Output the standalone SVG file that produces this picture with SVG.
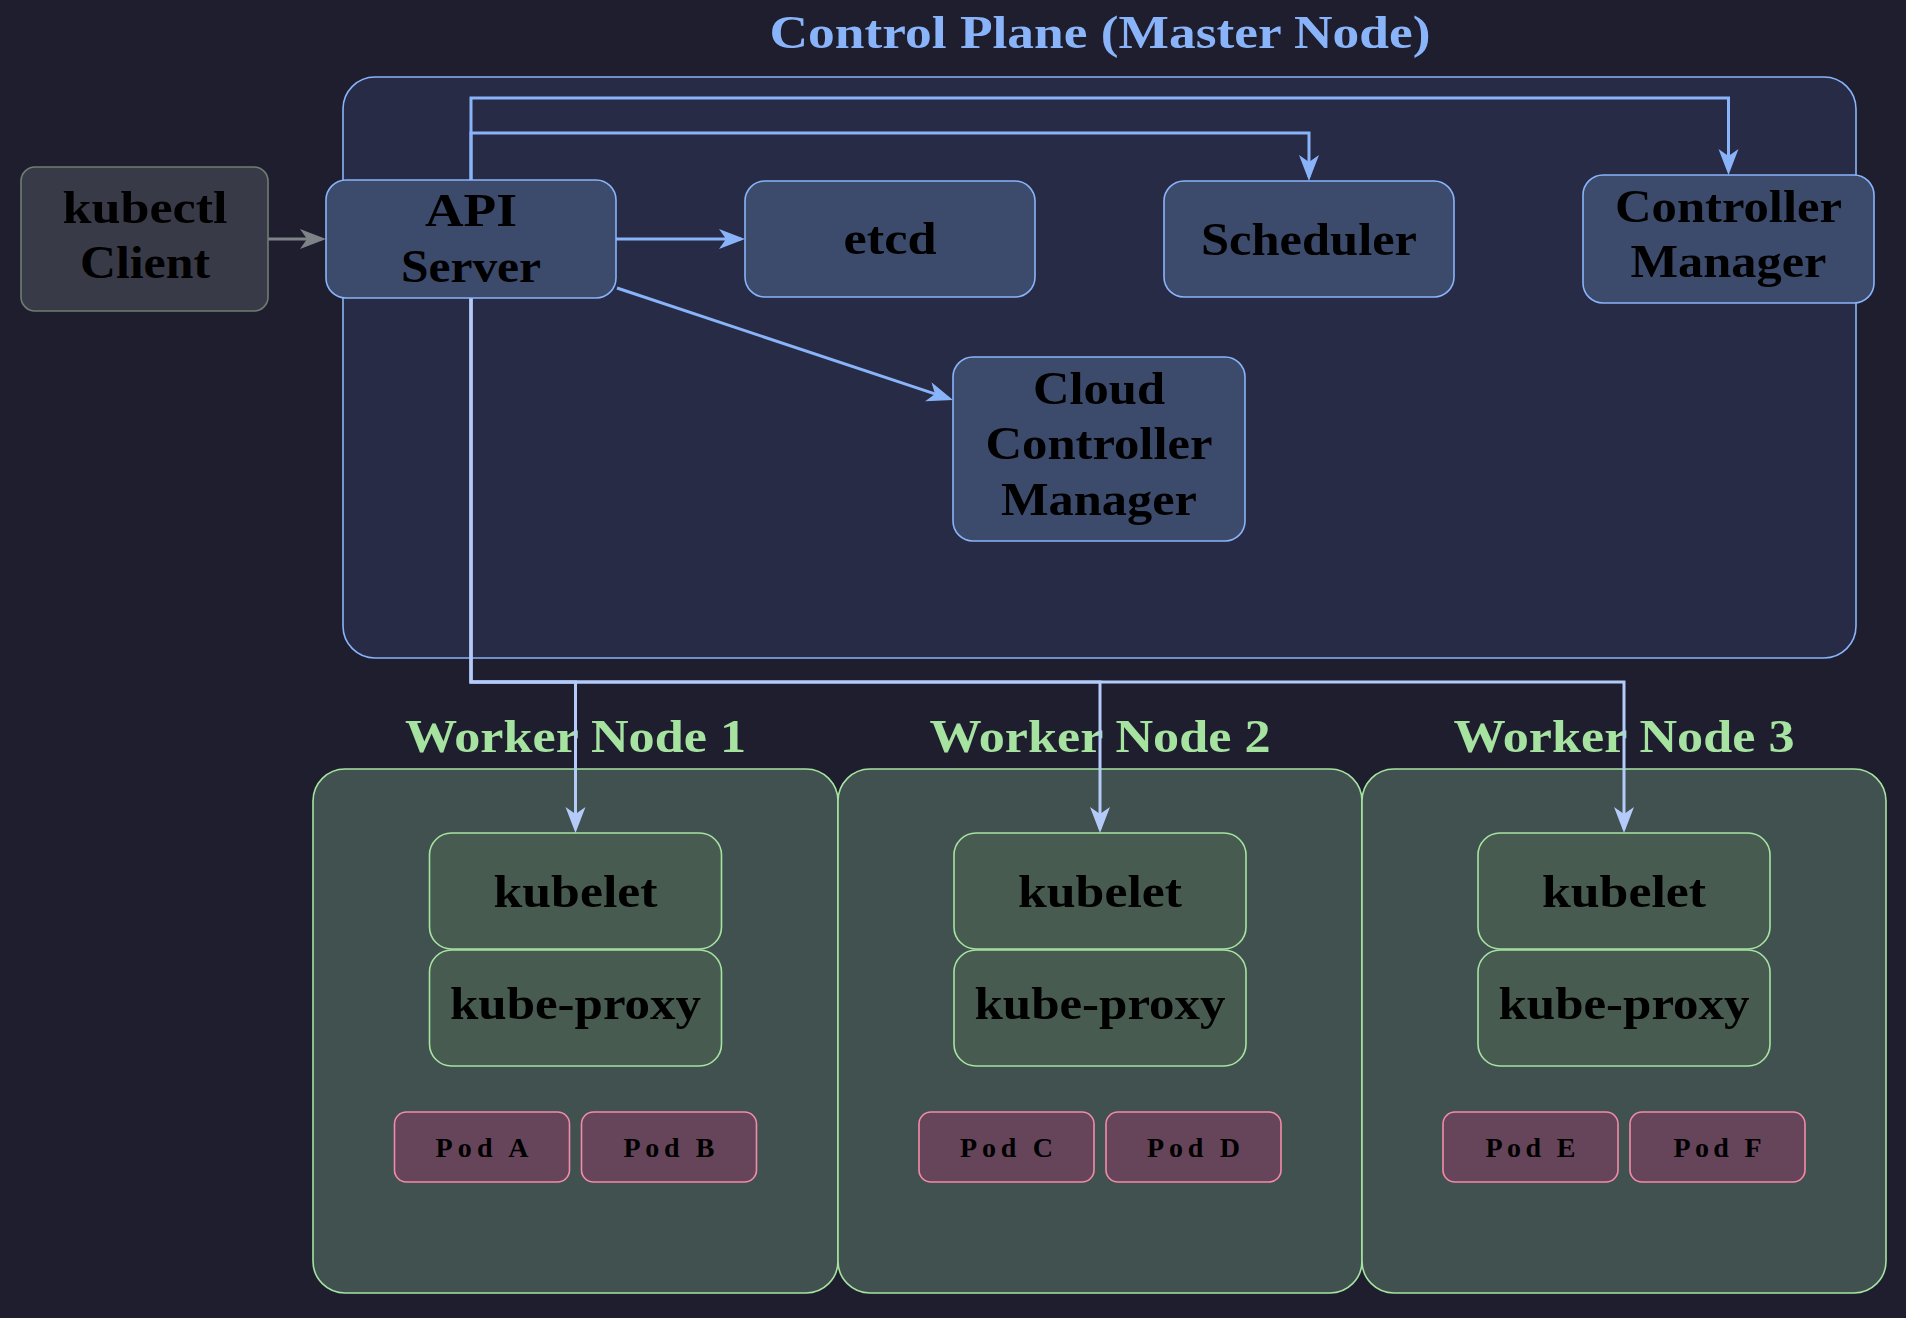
<svg xmlns="http://www.w3.org/2000/svg" width="1906" height="1318" viewBox="0 0 1906 1318">
<defs>
<style>
text{font-family:"Liberation Serif","DejaVu Serif",serif;font-weight:bold;text-anchor:middle;}
.lbl{font-size:46px;fill:#000;}
.pod-t{font-size:28px;fill:#000;}
.cp-title{font-size:46px;fill:#89b4fa;}
.w-title{font-size:46px;fill:#a6e3a1;}
.cp{fill:#272b45;stroke:#89b4fa;stroke-width:1.6;}
.comp{fill:#3c4a6c;stroke:#89b4fa;stroke-width:1.6;}
.client{fill:#393a47;stroke:#6f7d72;stroke-width:1.6;}
.worker{fill:#405150;stroke:#a6e3a1;stroke-width:1.6;}
.wcomp{fill:#475b51;stroke:#a6e3a1;stroke-width:1.6;}
.pod{fill:#66455b;stroke:#f38ba8;stroke-width:1.6;}
.c-blue{fill:none;stroke:#89b4fa;stroke-width:3;marker-end:url(#ah-blue);}
.c-light{fill:none;stroke:#b4cbfa;stroke-width:3;marker-end:url(#ah-light);}
.c-gray{fill:none;stroke:#7d8387;stroke-width:3;marker-end:url(#ah-gray);}
</style>
<marker id="ah-blue" markerUnits="userSpaceOnUse" markerWidth="30" markerHeight="24" refX="22" refY="10" orient="auto"><path d="M0,0 L26,10 L0,20 L7,10 Z" fill="#89b4fa"/></marker>
<marker id="ah-light" markerUnits="userSpaceOnUse" markerWidth="30" markerHeight="24" refX="22" refY="10" orient="auto"><path d="M0,0 L26,10 L0,20 L7,10 Z" fill="#b4cbfa"/></marker>
<marker id="ah-gray" markerUnits="userSpaceOnUse" markerWidth="30" markerHeight="24" refX="22" refY="10" orient="auto"><path d="M0,0 L26,10 L0,20 L7,10 Z" fill="#7d8387"/></marker>
</defs>
<rect x="0" y="0" width="1906" height="1318" fill="#1e1e2e"/>

<g id="control-plane">
<rect class="cp" x="343" y="77" width="1513" height="581" rx="32"/>
<text class="cp-title" x="1100" y="48" textLength="661" lengthAdjust="spacingAndGlyphs">Control Plane (Master Node)</text>
</g>

<g id="worker-1">
<rect class="worker" x="313" y="769" width="525" height="524" rx="32"/>
<text class="w-title" x="575.5" y="752" textLength="341" lengthAdjust="spacingAndGlyphs">Worker Node 1</text>
</g>
<g id="worker-2">
<rect class="worker" x="838" y="769" width="524" height="524" rx="32"/>
<text class="w-title" x="1100" y="752" textLength="341" lengthAdjust="spacingAndGlyphs">Worker Node 2</text>
</g>
<g id="worker-3">
<rect class="worker" x="1362" y="769" width="524" height="524" rx="32"/>
<text class="w-title" x="1624" y="752" textLength="341" lengthAdjust="spacingAndGlyphs">Worker Node 3</text>
</g>

<g id="connectors">
<path class="c-gray" d="M268,239 H322"/>
<path class="c-blue" d="M616,239 H741"/>
<path class="c-blue" d="M471,180 V133 H1309 V177"/>
<path class="c-blue" d="M471,180 V98 H1728.5 V171"/>
<path class="c-blue" d="M617,288 L949.2,398.7"/>
<path class="c-light" d="M471,298 V682 H575.5 V829"/>
<path class="c-light" d="M471,298 V682 H1100 V829"/>
<path class="c-light" d="M471,298 V682 H1624 V829"/>
</g>

<g id="kubectl">
<rect class="client" x="21" y="167" width="247" height="144" rx="14"/>
<text class="lbl" x="145" y="223" textLength="165" lengthAdjust="spacingAndGlyphs">kubectl</text>
<text class="lbl" x="145" y="278" textLength="130" lengthAdjust="spacingAndGlyphs">Client</text>
</g>

<g id="api-server">
<rect class="comp" x="326" y="180" width="290" height="118" rx="20"/>
<text class="lbl" x="471" y="226" textLength="92" lengthAdjust="spacingAndGlyphs">API</text>
<text class="lbl" x="471" y="282" textLength="140" lengthAdjust="spacingAndGlyphs">Server</text>
</g>

<g id="etcd">
<rect class="comp" x="745" y="181" width="290" height="116" rx="20"/>
<text class="lbl" x="890" y="254" textLength="93" lengthAdjust="spacingAndGlyphs">etcd</text>
</g>

<g id="scheduler">
<rect class="comp" x="1164" y="181" width="290" height="116" rx="20"/>
<text class="lbl" x="1309" y="255" textLength="216" lengthAdjust="spacingAndGlyphs">Scheduler</text>
</g>

<g id="controller-manager">
<rect class="comp" x="1583" y="175" width="291" height="128" rx="20"/>
<text class="lbl" x="1728.5" y="222" textLength="227" lengthAdjust="spacingAndGlyphs">Controller</text>
<text class="lbl" x="1728.5" y="277" textLength="196" lengthAdjust="spacingAndGlyphs">Manager</text>
</g>

<g id="cloud-controller-manager">
<rect class="comp" x="953" y="357" width="292" height="184" rx="20"/>
<text class="lbl" x="1099" y="404" textLength="132" lengthAdjust="spacingAndGlyphs">Cloud</text>
<text class="lbl" x="1099" y="459" textLength="227" lengthAdjust="spacingAndGlyphs">Controller</text>
<text class="lbl" x="1099" y="515" textLength="196" lengthAdjust="spacingAndGlyphs">Manager</text>
</g>

<g id="kubelet-1">
<rect class="wcomp" x="429.5" y="833" width="292" height="116" rx="22"/>
<text class="lbl" x="575.5" y="907" textLength="164" lengthAdjust="spacingAndGlyphs">kubelet</text>
</g>
<g id="kube-proxy-1">
<rect class="wcomp" x="429.5" y="950" width="292" height="116" rx="22"/>
<text class="lbl" x="575.5" y="1019" textLength="251" lengthAdjust="spacingAndGlyphs">kube-proxy</text>
</g>
<g id="pod-a">
<rect class="pod" x="394.5" y="1112" width="175" height="70" rx="12"/>
<text class="pod-t" x="482" y="1157" textLength="93" lengthAdjust="spacing">Pod A</text>
</g>
<g id="pod-b">
<rect class="pod" x="581.5" y="1112" width="175" height="70" rx="12"/>
<text class="pod-t" x="669" y="1157" textLength="91" lengthAdjust="spacing">Pod B</text>
</g>

<g id="kubelet-2">
<rect class="wcomp" x="954" y="833" width="292" height="116" rx="22"/>
<text class="lbl" x="1100" y="907" textLength="164" lengthAdjust="spacingAndGlyphs">kubelet</text>
</g>
<g id="kube-proxy-2">
<rect class="wcomp" x="954" y="950" width="292" height="116" rx="22"/>
<text class="lbl" x="1100" y="1019" textLength="251" lengthAdjust="spacingAndGlyphs">kube-proxy</text>
</g>
<g id="pod-c">
<rect class="pod" x="919" y="1112" width="175" height="70" rx="12"/>
<text class="pod-t" x="1006.5" y="1157" textLength="93" lengthAdjust="spacing">Pod C</text>
</g>
<g id="pod-d">
<rect class="pod" x="1106" y="1112" width="175" height="70" rx="12"/>
<text class="pod-t" x="1193.5" y="1157" textLength="93" lengthAdjust="spacing">Pod D</text>
</g>

<g id="kubelet-3">
<rect class="wcomp" x="1478" y="833" width="292" height="116" rx="22"/>
<text class="lbl" x="1624" y="907" textLength="164" lengthAdjust="spacingAndGlyphs">kubelet</text>
</g>
<g id="kube-proxy-3">
<rect class="wcomp" x="1478" y="950" width="292" height="116" rx="22"/>
<text class="lbl" x="1624" y="1019" textLength="251" lengthAdjust="spacingAndGlyphs">kube-proxy</text>
</g>
<g id="pod-e">
<rect class="pod" x="1443" y="1112" width="175" height="70" rx="12"/>
<text class="pod-t" x="1530.5" y="1157" textLength="90" lengthAdjust="spacing">Pod E</text>
</g>
<g id="pod-f">
<rect class="pod" x="1630" y="1112" width="175" height="70" rx="12"/>
<text class="pod-t" x="1717.5" y="1157" textLength="88" lengthAdjust="spacing">Pod F</text>
</g>
</svg>
